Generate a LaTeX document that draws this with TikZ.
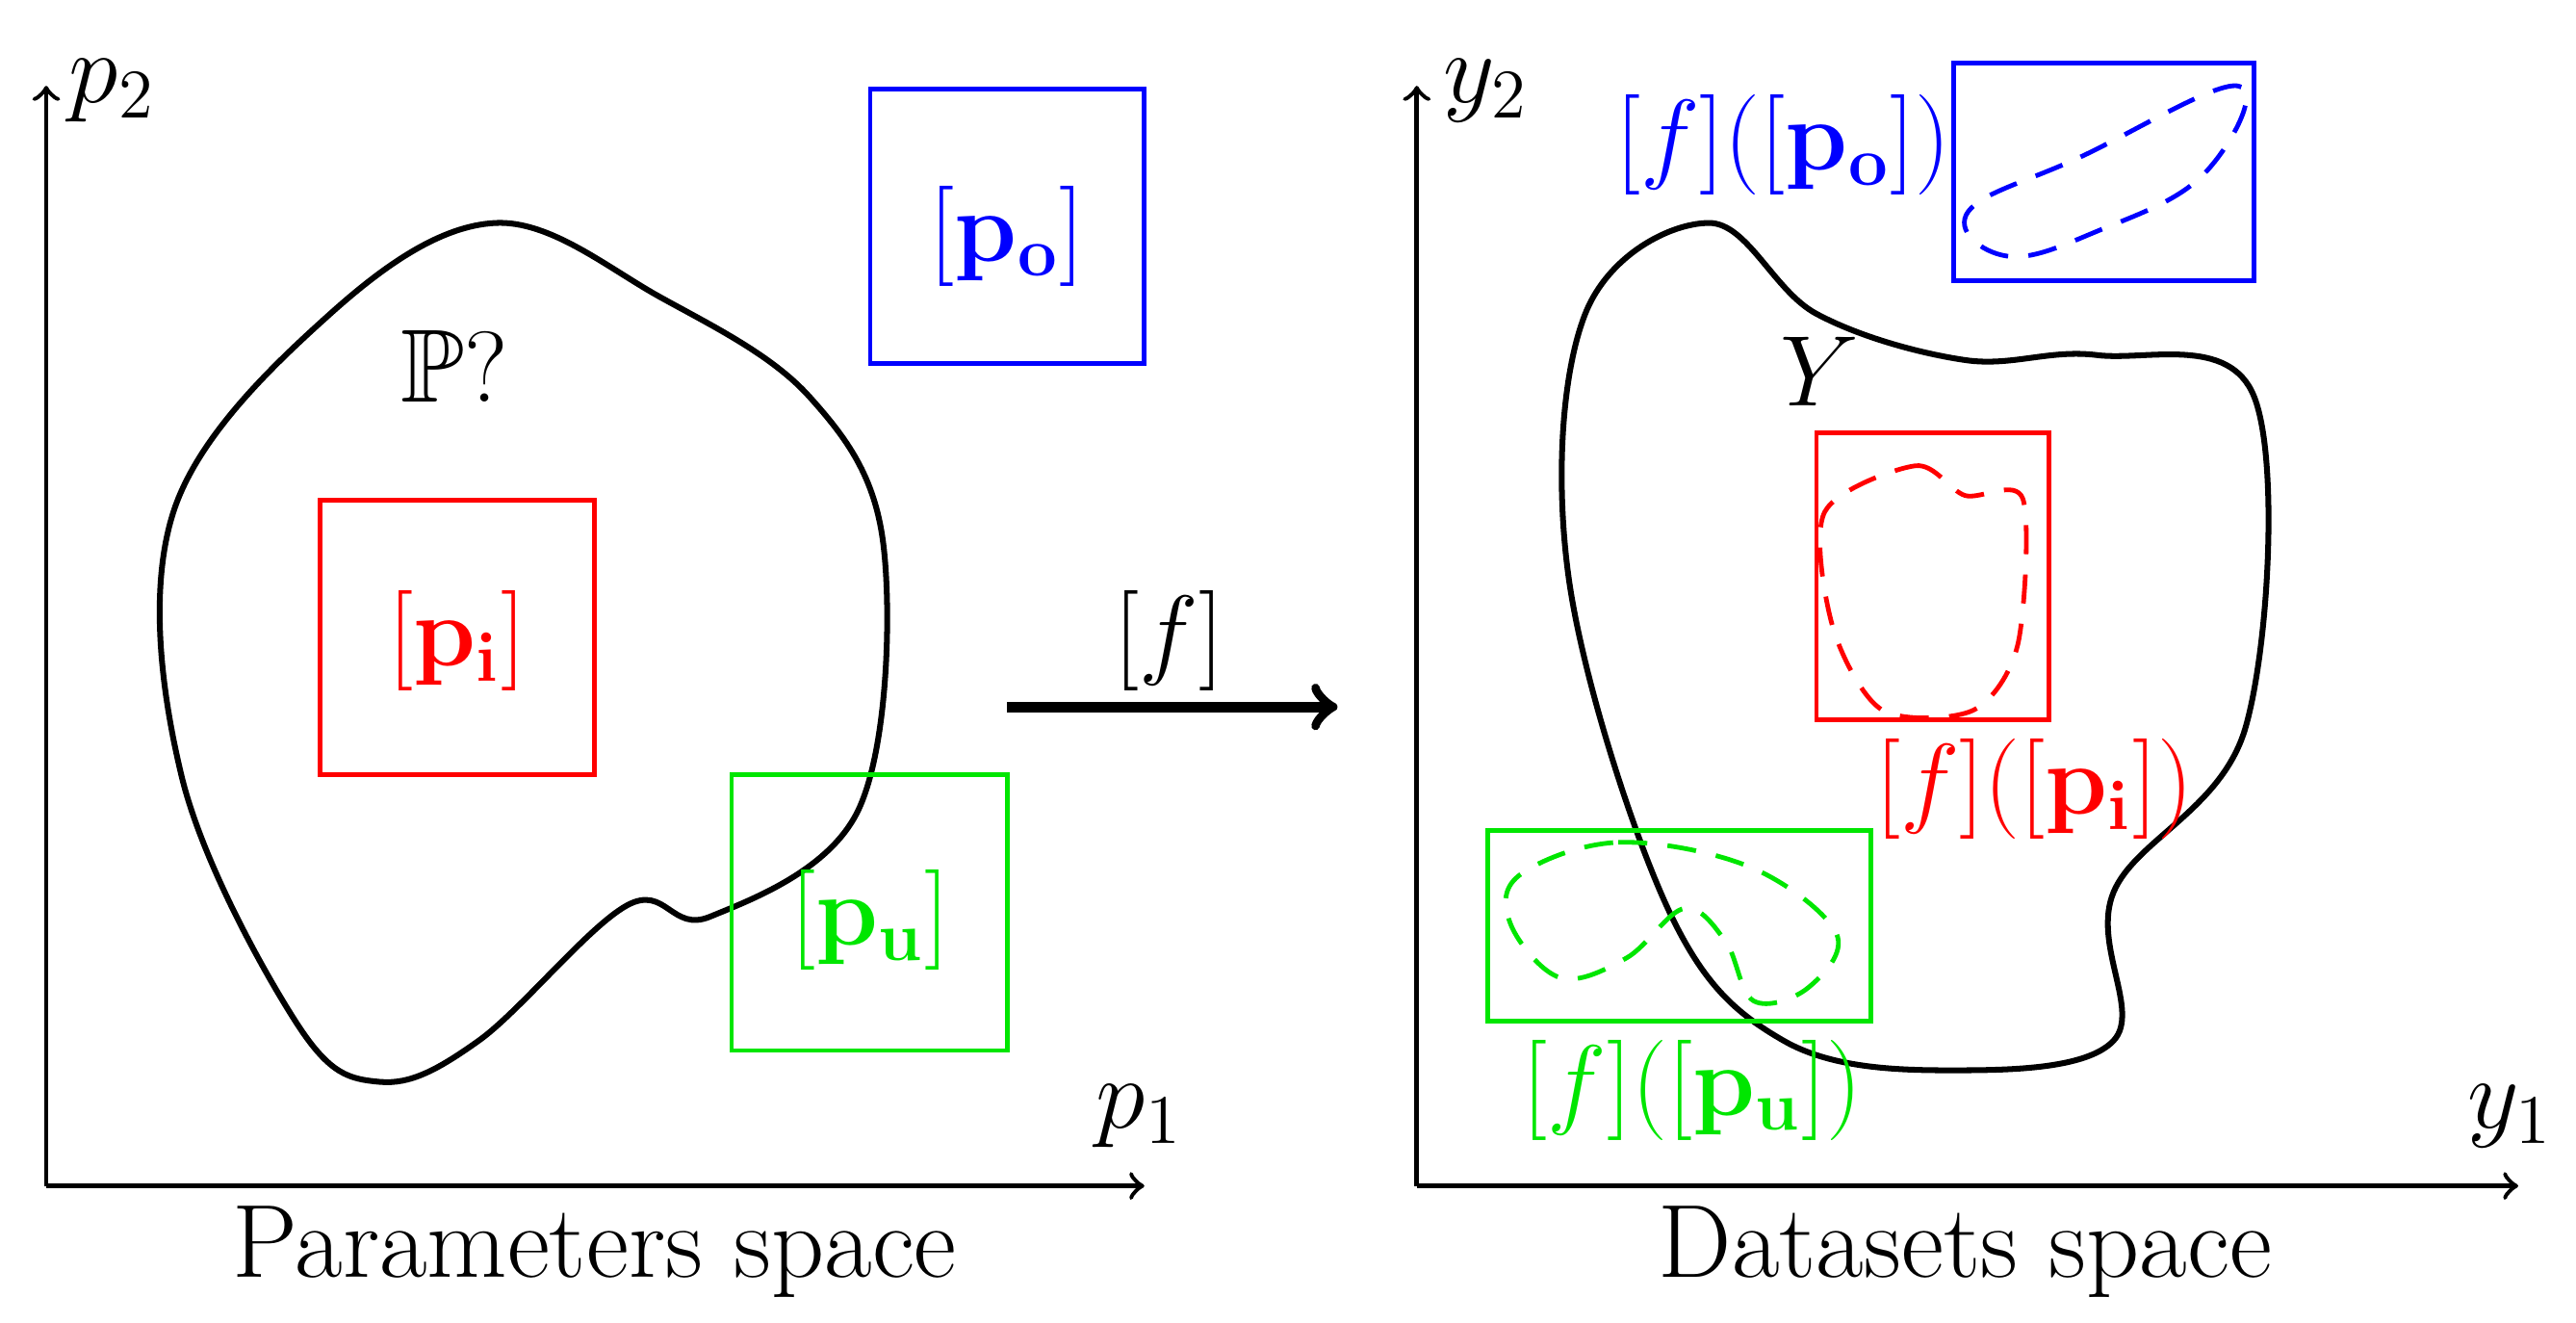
\documentclass[tikz,border=0pt]{standalone}
\usepackage{amssymb,amsmath,bm}
\definecolor{gr}{RGB}{0,230,0}
\begin{document}
\begin{tikzpicture}[x=0.01cm,y=-0.01cm,
  lbl/.style={font=\fontsize{17.9}{21}\selectfont,inner sep=0},
  ax/.style={->,line width=0.8pt},
  bx/.style={line width=0.8pt},
  blob/.style={line width=1pt},
  dsh/.style={line width=0.8pt,dash pattern=on 5pt off 3.5pt}]
\useasboundingbox (0,0) rectangle (1560,801);
% left axes
\coordinate (o1) at (28,718);\coordinate (x1) at (693,718);\coordinate (y1) at (28,52);
\draw[ax] (o1)--(x1); \draw[ax] (o1)--(y1);
\node[lbl] (p2) at (68,55) {$p_2$};
\node[lbl] (p1) at (690,676) {$p_1$};
\node[lbl] (ps) at (360,758) {Parameters space};
\draw[blob] plot[smooth cycle,tension=0.6] coordinates {(230,655)(290,630)(380,548)(430,555)(520,490)(535,330)(490,240)(400,180)(300,135)(200,190)(105,310)(110,470)(180,620)};
\node[lbl] (P) at (275,222) {$\mathbb{P}?$};
\draw[bx,blue] (527,54) rectangle (693,220);
\node[lbl,blue] (po) at (610,143) {$[\mathbf{p_o}]$};
\draw[bx,red] (194,303) rectangle (360,469);
\node[lbl,red] (pi) at (277,388) {$[\mathbf{p_i}]$};
\draw[bx,gr] (443,469) rectangle (610,636);
\node[lbl,gr] (pu) at (527,557) {$[\mathbf{p_u}]$};
% arrow
\coordinate (a1) at (610,428);\coordinate (a2) at (810,428);
\draw[->,line width=1.8pt] (a1)--(a2);
\node[lbl] (f) at (708,388) {$[f]$};
% right axes
\coordinate (o2) at (858,718);\coordinate (x2) at (1525,718);\coordinate (y2) at (858,52);
\draw[ax] (o2)--(x2); \draw[ax] (o2)--(y2);
\node[lbl] (ly2) at (900,55) {$y_2$};
\node[lbl] (ly1) at (1520,676) {$y_1$};
\node[lbl] (ds) at (1190,758) {Datasets space};
\draw[blob] plot[smooth cycle,tension=0.6] coordinates {(1035,135)(1100,190)(1190,218)(1270,215)(1365,240)(1360,440)(1280,540)(1280,630)(1180,648)(1080,630)(1010,550)(950,350)(960,190)};
\node[lbl] (Y) at (1102,225) {$Y$};
\draw[bx,blue] (1183,38) rectangle (1365,170);
\node[lbl,blue] (fpo) at (1080,88) {$[f]([\mathbf{p_o}])$};
\draw[dsh,blue] plot[smooth cycle,tension=0.7] coordinates {(1192,128)(1260,95)(1355,52)(1335,105)(1270,140)(1215,155)};
\draw[bx,red] (1100,262) rectangle (1241,436);
\draw[dsh,red] plot[smooth cycle,tension=0.5] coordinates {(1105,310)(1160,282)(1190,300)(1225,302)(1222,390)(1195,430)(1140,430)(1110,380)};
\node[lbl,red] (fpi) at (1232,478) {$[f]([\mathbf{p_i}])$};
\draw[bx,gr] (901,503) rectangle (1133,618);
\draw[dsh,gr] plot[smooth cycle,tension=0.6] coordinates {(920,530)(980,510)(1060,525)(1112,565)(1095,598)(1062,606)(1045,570)(1020,550)(985,580)(945,592)(915,560)};
\node[lbl,gr] (fpu) at (1025,660) {$[f]([\mathbf{p_u}])$};
\end{tikzpicture}
\end{document}
